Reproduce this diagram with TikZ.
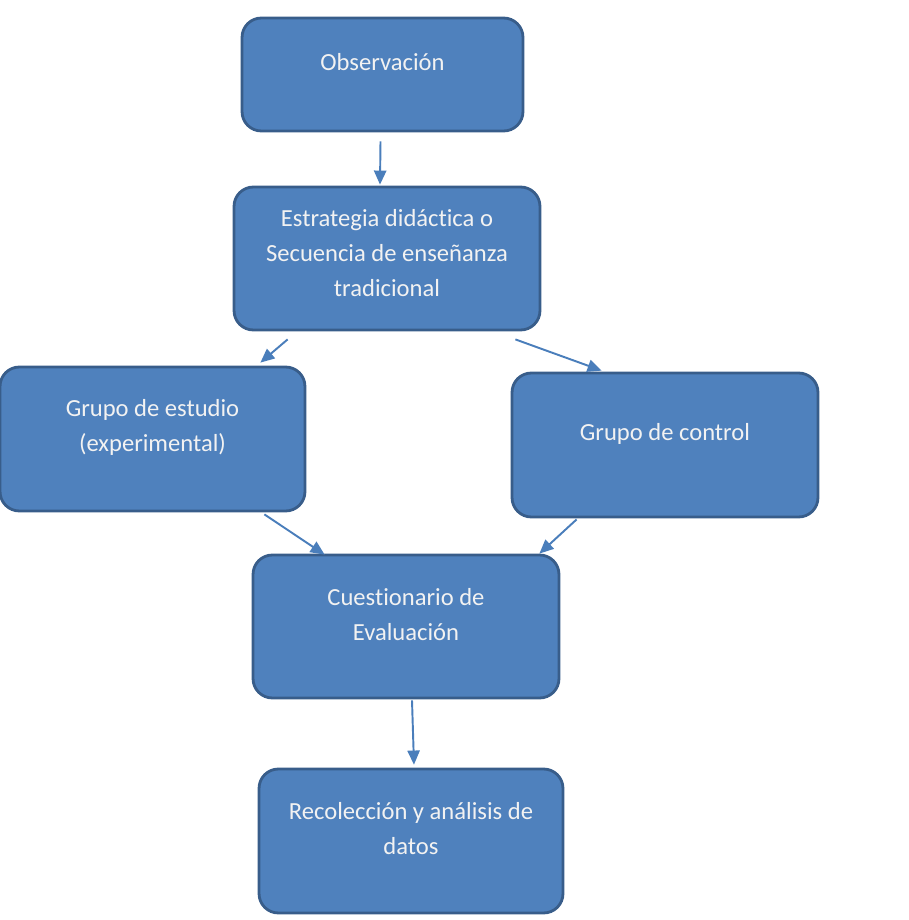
\documentclass[tikz,border=0pt]{standalone}
\usepackage{fontspec}
\setmainfont[Ligatures=NoCommon]{Carlito}
\usepackage{tikz}
\usetikzlibrary{calc,arrows.meta}
\definecolor{boxfill}{HTML}{4F81BD}
\definecolor{boxline}{HTML}{385D8A}
\definecolor{arrline}{HTML}{4A7EBB}
\tikzset{
	blk/.style={draw=boxline, fill=boxfill, line width=1.6pt, rounded corners=11pt, inner sep=0pt},
	blktext/.style={text=white!95!black, align=center, font=\fontsize{14}{19.9}\selectfont, inner sep=0pt},
	arr/.style={draw=arrline, line width=1.1pt, -{Triangle[length=8pt, width=7pt]}}
}

\begin{document}
\begin{tikzpicture}[x=0.02cm, y=-0.02cm]
		%%%%% START %%%%%
		
		\useasboundingbox (0, 0) rectangle (909, 920);
		
		\node[blk, minimum width=5.62cm, minimum height=2.26cm] (obs) at (382.5, 74.5) {};
		\node[blk, minimum width=6.12cm, minimum height=2.86cm] (est) at (387, 258.5) {};
		\node[blk, minimum width=6.10cm, minimum height=2.88cm] (gest) at (152.5, 439) {};
		\node[blk, minimum width=6.12cm, minimum height=2.88cm] (gctl) at (665, 445) {};
		\node[blk, minimum width=6.12cm, minimum height=2.86cm] (cues) at (406, 626.5) {};
		\node[blk, minimum width=6.08cm, minimum height=2.88cm] (rec) at (411, 841) {};
		
		\node[blktext] (obs-t) at ($(obs.center)+(0, -12.5)$) {Observación};
		\node[blktext] (est-t) at ($(est.center)+(0, -5)$) {Estrategia didáctica o\\Secuencia de enseñanza\\tradicional};
		\node[blktext] (gest-t) at ($(gest.center)+(0, -12)$) {Grupo de estudio\\(experimental)};
		\node[blktext] (gctl-t) at ($(gctl.center)+(0, -11)$) {Grupo de control};
		\node[blktext] (cues-t) at ($(cues.center)+(0, -11.5)$) {Cuestionario de\\Evaluación};
		\node[blktext] (rec-t) at ($(rec.center)+(0, -12)$) {Recolección y análisis de\\datos};
		
		\draw[arr] ($(obs.south)+(-2, 9)$) -- ($(est.north)+(-7, -1)$);
		\draw[arr] ($(est.south west)+(55, 8)$) -- ($(gest.north east)+(-46, -3)$);
		\draw[arr] ($(est.south east)+(-26, 8)$) -- ($(gctl.north west)+(91, -1)$);
		\draw[arr] ($(gest.south east)+(-42, 2)$) -- ($(cues.north west)+(73, 1)$);
		\draw[arr] ($(gctl.south west)+(66, 1)$) -- ($(cues.north east)+(-21, 0)$);
		\draw[arr] ($(cues.south)+(6, 1)$) -- ($(rec.north)+(3, -3)$);
		
		%%%%% END %%%%%
	\end{tikzpicture}
\end{document}
